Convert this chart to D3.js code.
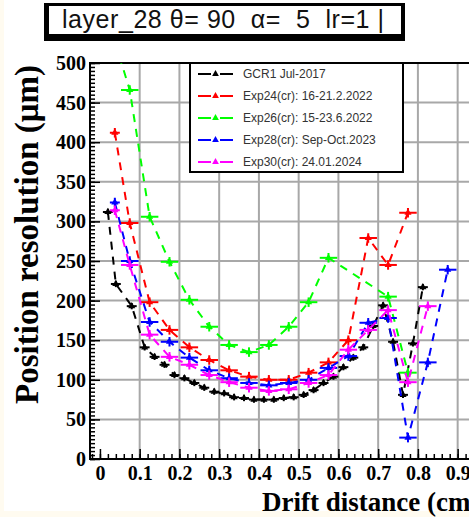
<!DOCTYPE html>
<html>
<head>
<meta charset="utf-8">
<script src="https://cdn.jsdelivr.net/npm/d3@7"></script>
<style>
  html, body { margin: 0; padding: 0; background: #fffbf0; }
  svg { display: block; }
</style>
</head>
<body>
<svg id="chart" width="469" height="517"></svg>
<script>
// ---- data: position resolution (um) vs drift distance (cm) ----
const xGCR1 = [0.02, 0.04, 0.08, 0.1125, 0.1375, 0.1625, 0.1875, 0.2125, 0.2375, 0.2625, 0.2875, 0.3125,
  0.3375, 0.3625, 0.3875, 0.4125, 0.4375, 0.4625, 0.4875, 0.5125, 0.5375, 0.5625, 0.5875, 0.6125,
  0.6375, 0.6625, 0.6875, 0.7125, 0.7375, 0.7625, 0.7875, 0.8125];
const yGCR1 = [312, 221, 193, 141, 129, 119, 106, 102, 96, 90, 85, 83,
  78, 77, 75, 75, 75, 77, 78, 81, 87, 96, 104, 116,
  128, 141, 168, 194, 148, 81, 146, 217];

const xExp24 = [0.0375, 0.075, 0.125, 0.175, 0.225, 0.275, 0.325, 0.375, 0.425, 0.475, 0.525, 0.575, 0.625, 0.675, 0.725, 0.775];
const yExp24 = [412, 298, 198, 163, 141, 125, 112, 104, 100, 100, 109, 122, 150, 279, 245, 311];

const xExp26 = [0.0375, 0.075, 0.125, 0.175, 0.225, 0.275, 0.325, 0.375, 0.425, 0.475, 0.525, 0.575, 0.725, 0.775];
const yExp26 = [527, 466, 306, 249, 201, 167, 144, 135, 144, 167, 198, 254, 205, 109];

const xExp28 = [0.0375, 0.075, 0.125, 0.175, 0.225, 0.275, 0.325, 0.375, 0.425, 0.475, 0.525, 0.575, 0.625, 0.675, 0.725, 0.775, 0.825, 0.875];
const yExp28 = [324, 250, 173, 148, 128, 112, 102, 96, 93, 96, 100, 115, 130, 172, 178, 27, 122, 239];

const xExp30 = [0.0375, 0.075, 0.125, 0.175, 0.225, 0.275, 0.325, 0.375, 0.425, 0.475, 0.525, 0.575, 0.625, 0.675, 0.725, 0.775, 0.825];
const yExp30 = [314, 245, 157, 129, 119, 106, 97, 90, 86, 88, 96, 106, 138, 163, 188, 97, 193];

const seriesNames = ["GCR1 Jul-2017", "Exp24(cr): 16-21.2.2022", "Exp26(cr): 15-23.6.2022",
  "Exp28(cr): Sep-Oct.2023", "Exp30(cr): 24.01.2024"];
const seriesColors = ["#000000", "#ff0000", "#00ff00", "#0000ff", "#ff00ff"];
// half bin widths (cm) and y uncertainties (um)
const binHalf = [0.0125, 0.022, 0.022, 0.022, 0.022];
const firstBinHalf = [0.0125, 0.0125, 0.0125, 0.0125, 0.0125];
const yErr = [4, 6, 6, 6, 6];

const xTickValues = [0, 0.1, 0.2, 0.3, 0.4, 0.5, 0.6, 0.7, 0.8, 0.9];
const yTickValues = [0, 50, 100, 150, 200, 250, 300, 350, 400, 450, 500];
const titleText = "layer_28 θ= 90  α=  5  lr=1 |";
const xTitle = "Drift distance (cm)";
const yTitle = "Position resolution (μm)";

const xs = [xGCR1, xExp24, xExp26, xExp28, xExp30];
const ys = [yGCR1, yExp24, yExp26, yExp28, yExp30];
const series = seriesNames.map((name, i) => ({
  name, color: seriesColors[i],
  points: xs[i].map((xv, j) => ({ x: xv, y: ys[i][j], xe: j === 0 ? firstBinHalf[i] : binHalf[i], ye: yErr[i] }))
}));

// ---- layout ----
const svg = d3.select("#chart");
svg.append("rect").attr("x", 4).attr("y", 0).attr("width", 465).attr("height", 511).attr("fill", "#ffffff");

const x = d3.scaleLinear().domain([-0.025, 1.0]).range([90, 497.4]);
const y = d3.scaleLinear().domain([0, 500]).range([459, 63]);

// title box with drop shadow
svg.append("rect").attr("x", 44).attr("y", 3).attr("width", 361).attr("height", 38).attr("fill", "#000");
svg.append("rect").attr("x", 49).attr("y", 6).attr("width", 352).attr("height", 28).attr("fill", "#fff");
svg.append("text").attr("x", 62).attr("y", 28)
  .attr("font-family", "Liberation Sans, Arial, sans-serif").attr("font-size", 25)
  .attr("textLength", 322).attr("lengthAdjust", "spacing")
  .style("white-space", "pre").attr("fill", "#111").text(titleText);

// grid
const grid = svg.append("g").attr("stroke", "#a8a8a8").attr("stroke-width", 2);
grid.selectAll("line.gx").data(xTickValues.filter(v => v > 0)).join("line")
  .attr("x1", d => x(d)).attr("x2", d => x(d)).attr("y1", y(500)).attr("y2", y(0));
grid.selectAll("line.gy").data(yTickValues.filter(v => v > 0 && v < 500)).join("line")
  .attr("x1", x(-0.025)).attr("x2", x(1.0)).attr("y1", d => y(d)).attr("y2", d => y(d));

// axes: ticks pointing inwards
const axisFont = "Liberation Serif, Times New Roman, serif";
const xMinor = d3.range(0, 52).map(i => -0.02 + i * 0.02).filter(v => v >= -0.025 && v <= 1.0);
const yMinor = d3.range(0, 101).map(i => i * 5);

const gxMinor = svg.append("g").attr("transform", `translate(0,${y(0)})`)
  .call(d3.axisBottom(x).tickValues(xMinor).tickFormat("").tickSizeInner(-5).tickSizeOuter(0));
const gx = svg.append("g").attr("transform", `translate(0,${y(0)})`)
  .call(d3.axisBottom(x).tickValues(xTickValues).tickFormat(d => d === 0 ? "0" : d3.format(".1f")(d))
    .tickSizeInner(-10).tickSizeOuter(0).tickPadding(7));
const gyMinor = svg.append("g").attr("transform", `translate(${x(-0.025)},0)`)
  .call(d3.axisLeft(y).tickValues(yMinor).tickFormat("").tickSizeInner(-5).tickSizeOuter(0));
const gy = svg.append("g").attr("transform", `translate(${x(-0.025)},0)`)
  .call(d3.axisLeft(y).tickValues(yTickValues).tickFormat(d3.format("d"))
    .tickSizeInner(-10).tickSizeOuter(0).tickPadding(4));

[gx, gy, gxMinor, gyMinor].forEach(g => {
  g.select(".domain").remove();
  g.selectAll(".tick line").attr("stroke", "#000").attr("stroke-width", 1.5);
  g.selectAll(".tick text").attr("font-family", axisFont).attr("font-weight", "bold")
    .attr("font-size", 20).attr("fill", "#000");
});

// frame
svg.append("rect").attr("x", x(-0.025)).attr("y", y(500))
  .attr("width", x(1.0) - x(-0.025)).attr("height", y(0) - y(500))
  .attr("fill", "none").attr("stroke", "#000").attr("stroke-width", 2);

// axis titles
svg.append("text").attr("x", 262).attr("y", 511).attr("text-anchor", "start")
  .attr("font-family", axisFont).attr("font-weight", "bold").attr("font-size", 27).text(xTitle);
svg.append("text").attr("transform", `translate(38,${y(500) + 2}) rotate(-90)`).attr("text-anchor", "end")
  .attr("font-family", axisFont).attr("font-weight", "bold").attr("font-size", 33).text(yTitle);

// data
svg.append("clipPath").attr("id", "plotclip").append("rect")
  .attr("x", x(-0.025)).attr("y", y(500)).attr("width", x(1.0) - x(-0.025)).attr("height", y(0) - y(500));
const plot = svg.append("g").attr("clip-path", "url(#plotclip)");
const line = d3.line().x(d => x(d.x)).y(d => y(d.y));
const tri = d3.symbol(d3.symbolTriangle, 22);

series.forEach(s => {
  const g = plot.append("g");
  g.append("path").datum(s.points).attr("d", line).attr("fill", "none")
    .attr("stroke", s.color).attr("stroke-width", 2).attr("stroke-dasharray", "8,7");
  g.selectAll("line.h").data(s.points).join("line")
    .attr("x1", d => x(d.x - d.xe)).attr("x2", d => x(d.x + d.xe))
    .attr("y1", d => y(d.y)).attr("y2", d => y(d.y)).attr("stroke", s.color).attr("stroke-width", 2);
  g.selectAll("line.v").data(s.points).join("line")
    .attr("x1", d => x(d.x)).attr("x2", d => x(d.x))
    .attr("y1", d => y(d.y - d.ye)).attr("y2", d => y(d.y + d.ye)).attr("stroke", s.color).attr("stroke-width", 2);
  g.selectAll("path.m").data(s.points).join("path")
    .attr("d", tri).attr("transform", d => `translate(${x(d.x)},${y(d.y)})`).attr("fill", s.color);
});

// legend
const lg = svg.append("g");
lg.append("rect").attr("x", 190).attr("y", 63).attr("width", 213).attr("height", 109)
  .attr("fill", "#fff").attr("stroke", "#000").attr("stroke-width", 2);
series.forEach((s, i) => {
  const yy = 74 + i * 22;
  lg.append("line").attr("x1", 198).attr("x2", 233).attr("y1", yy).attr("y2", yy)
    .attr("stroke", s.color).attr("stroke-width", 2).attr("stroke-dasharray", "13,9");
  lg.append("path").attr("d", d3.symbol(d3.symbolTriangle, 20)()).attr("transform", `translate(215.5,${yy})`).attr("fill", s.color);
  lg.append("text").attr("x", 243).attr("y", yy + 4).attr("font-family", "Liberation Sans, Arial, sans-serif")
    .attr("font-size", 12).attr("fill", "#333").text(s.name);
});
</script>
</body>
</html>
